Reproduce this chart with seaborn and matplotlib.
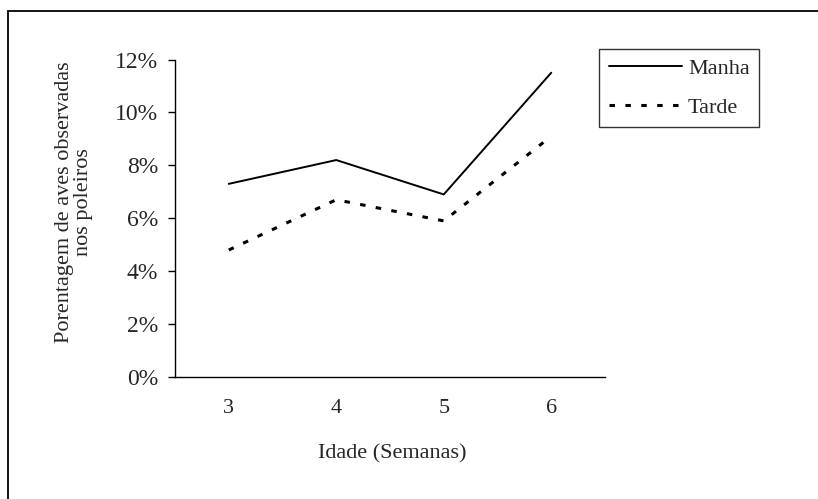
import matplotlib
matplotlib.use("Agg")
import matplotlib.pyplot as plt
import seaborn as sns
import pandas as pd
from matplotlib.ticker import PercentFormatter, FixedLocator, NullFormatter
from matplotlib.patches import Rectangle

# Data
semanas = ["3", "4", "5", "6"]
manha = [7.3, 8.2, 6.9, 11.5]
tarde = [4.8, 6.7, 5.9, 9.1]
series_names = ["Manha", "Tarde"]
y_ticks = [0, 2, 4, 6, 8, 10, 12]

df = pd.DataFrame({
    "Idade": semanas * 2,
    "Valor": manha + tarde,
    "Periodo": [series_names[0]] * len(semanas) + [series_names[1]] * len(semanas),
})

sns.set_theme(style="white")
plt.rcParams["font.family"] = ["Liberation Serif", "DejaVu Serif"]
plt.rcParams["font.size"] = 16

fig = plt.figure(figsize=(8.18, 4.99), dpi=100)
ax = fig.add_axes([175 / 818, 1 - 377 / 499, (605 - 175) / 818, (377 - 59.5) / 499])

sns.lineplot(data=df, x="Idade", y="Valor", hue="Periodo", style="Periodo",
             palette=["black", "black"],
             dashes={"Manha": "", "Tarde": (1.8, 3.4)},
             ax=ax, legend=False, sort=False)
lines = ax.get_lines()
lines[0].set_linewidth(1.4)
lines[1].set_linewidth(2.2)

ax.set_xlim(-0.5, len(semanas) - 0.5)
ax.set_ylim(0, 12)
ax.yaxis.set_major_locator(FixedLocator(y_ticks))
ax.yaxis.set_major_formatter(PercentFormatter(xmax=100, decimals=0))

# category boundaries as tick marks, labels at centers
ax.xaxis.set_major_locator(FixedLocator([i - 0.5 for i in range(len(semanas) + 1)]))
ax.xaxis.set_major_formatter(NullFormatter())
ax.set_xticks(range(len(semanas)), minor=True)
ax.set_xticklabels(semanas, minor=True)
ax.tick_params(axis="x", which="minor", length=0, pad=16, labelsize=16)
ax.tick_params(axis="x", which="major", direction="out", length=5, width=1, color="black")
ax.tick_params(axis="y", which="major", direction="out", length=5, width=1, color="black",
               pad=7, labelsize=17, left=True)

for s in ["top", "right"]:
    ax.spines[s].set_visible(False)
for s in ["left", "bottom"]:
    ax.spines[s].set_color("black")
    ax.spines[s].set_linewidth(1.0)

ax.set_xlabel("")
ax.set_ylabel("")

fig.text(74 / 818, 1 - 202 / 499, "Porentagem de aves observadas\nnos poleiros",
         rotation=90, ha="center", va="center", multialignment="center",
         fontsize=16, linespacing=1.05)
fig.text(392 / 818, 1 - 454 / 499, "Idade (Semanas)", ha="center", va="center", fontsize=16)

leg = fig.legend(handles=lines, labels=series_names, loc="upper left",
                 bbox_to_anchor=(599 / 818, 1 - 49 / 499), frameon=True, fancybox=False,
                 fontsize=16, handlelength=3.3, handletextpad=0.27, labelspacing=0.82,
                 borderpad=0.43, borderaxespad=0)
leg.get_frame().set_edgecolor("black")
leg.get_frame().set_linewidth(1.0)

fig.patches.append(Rectangle((8 / 818, -0.5), 2.0, 0.5 + (1 - 11 / 499), transform=fig.transFigure,
                             fill=False, edgecolor="black", linewidth=1.3))

fig.savefig("out.png", dpi=100)
